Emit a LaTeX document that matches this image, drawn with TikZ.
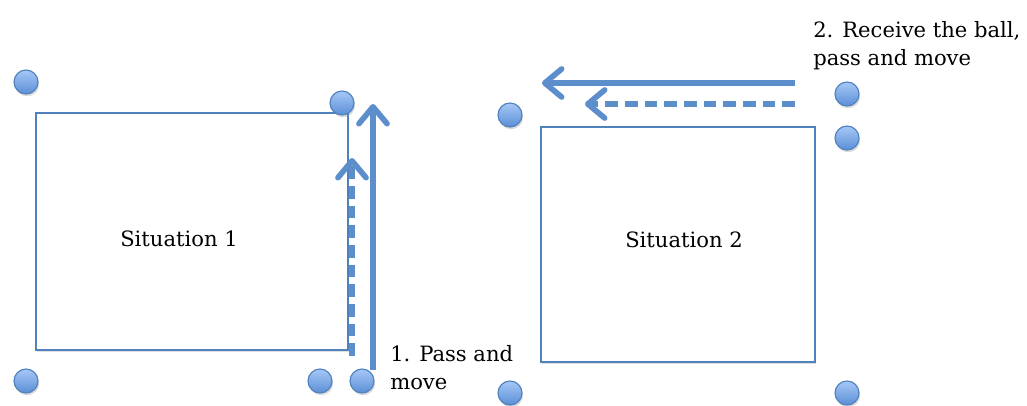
\documentclass[tikz,border=0pt]{standalone}
\usepackage{fontspec}
\setmainfont{DejaVu Serif}
\definecolor{playblue}{RGB}{92, 142, 204}
\definecolor{fieldblue}{RGB}{79, 129, 189}
\definecolor{balltop}{RGB}{165, 200, 247}
\definecolor{ballbot}{RGB}{92, 142, 214}
\usetikzlibrary{arrows.meta, positioning, shadows}

\begin{document}
\begin{tikzpicture}[
  x=0.025cm, y=-0.025cm,
  field/.style={draw=fieldblue, line width=1pt, fill=white, inner sep=0pt,
    drop shadow={opacity=0.25, shadow xshift=0.6pt, shadow yshift=-1.2pt}},
  fieldname/.style={anchor=base, inner sep=0pt, font=\fontsize{15}{20}\selectfont},
  player/.style={circle, draw=fieldblue, line width=0.8pt, top color=balltop, bottom color=ballbot, minimum size=0.6cm, inner sep=0pt,
    drop shadow={opacity=0.3, shadow xshift=0.8pt, shadow yshift=-1.6pt}},
  run/.style={draw=playblue, line width=4pt, -{Straight Barb[length=12pt, width=20pt, round]}},
  runpass/.style={run, dash pattern=on 9pt off 5pt},
  note/.style={align=left, anchor=west, inner sep=0pt, font=\fontsize{15}{20}\selectfont}
]
  \useasboundingbox (0,0) rectangle (1027,406);

  % situation 1
  \node[field, minimum width=7.8cm, minimum height=5.925cm] (sit1) at (192, 231.5) {};
  \node[fieldname] (sit1name) at (179, 247) {Situation 1};
  \node[player] (a1) at (26, 82) {};
  \node[player] (a2) at (342, 103) {};
  \node[player] (a3) at (26, 381) {};
  \node[player] (a4) at (320, 381) {};
  \node[player] (a5) at (362, 381) {};
  \coordinate (moveS) at (373, 370);
  \coordinate (moveE) at (373, 104);
  \coordinate (passS) at (352, 356);
  \coordinate (passE) at (352, 158);
  \draw[run] (moveS) -- (moveE);
  \draw[runpass] (passS) -- (passE);
  \node[note] (step1) at (390, 368) {1. Pass and\\move};

  % situation 2
  \node[field, minimum width=6.85cm, minimum height=5.875cm] (sit2) at (678, 244.5) {};
  \node[fieldname] (sit2name) at (684, 248) {Situation 2};
  \node[player] (b1) at (510, 115) {};
  \node[player] (b2) at (847, 94) {};
  \node[player] (b3) at (847, 138) {};
  \node[player] (b4) at (510, 393) {};
  \node[player] (b5) at (847, 393) {};
  \coordinate (move2S) at (795, 83);
  \coordinate (move2E) at (542, 83);
  \coordinate (pass2S) at (795, 104);
  \coordinate (pass2E) at (585, 104);
  \draw[run] (move2S) -- (move2E);
  \draw[runpass] (pass2S) -- (pass2E);
  \node[note] (step2) at (813, 46) {2. Receive the ball,\\pass and move};
\end{tikzpicture}
\end{document}
